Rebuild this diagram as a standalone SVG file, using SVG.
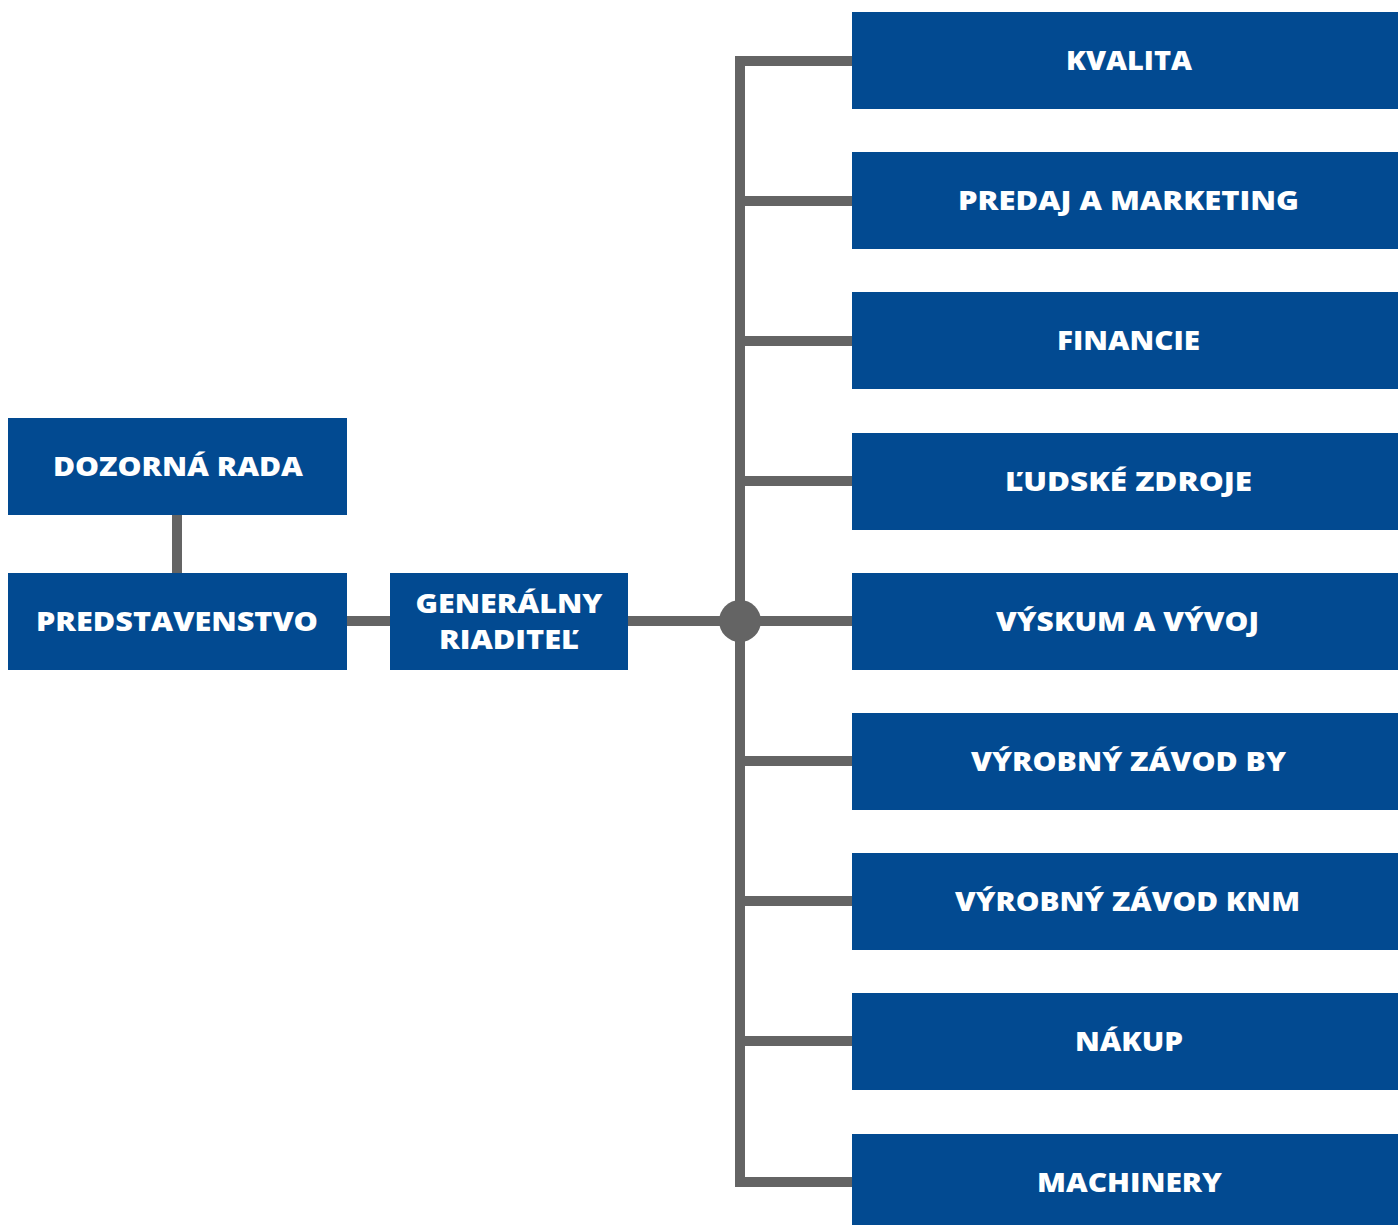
<svg xmlns="http://www.w3.org/2000/svg" width="1398" height="1225" viewBox="0 0 1398 1225">
<style>
.box{fill:#024a91}
.t{fill:#ffffff;font-family:"Open Sans","Liberation Sans",sans-serif;font-weight:800;font-size:27px;text-anchor:middle}
.ln{stroke:#646464;stroke-width:10;fill:none}
</style>
<rect width="1398" height="1225" fill="#ffffff"/>
<g id="connectors">
<line class="ln" x1="177" y1="514" x2="177" y2="574"/>
<line class="ln" x1="346" y1="621" x2="391" y2="621"/>
<line class="ln" x1="627" y1="621" x2="853" y2="621"/>
<polyline class="ln" points="853,61 740,61 740,1182 853,1182"/>
<line class="ln" x1="740" y1="201" x2="853" y2="201"/>
<line class="ln" x1="740" y1="341" x2="853" y2="341"/>
<line class="ln" x1="740" y1="481" x2="853" y2="481"/>
<line class="ln" x1="740" y1="761" x2="853" y2="761"/>
<line class="ln" x1="740" y1="901" x2="853" y2="901"/>
<line class="ln" x1="740" y1="1041" x2="853" y2="1041"/>
<circle cx="740" cy="621" r="21" fill="#646464"/>
</g>
<g id="dozorna"><rect class="box" x="8" y="418" width="339" height="97"/><text class="t" x="178" y="476" textLength="250" lengthAdjust="spacingAndGlyphs">DOZORNÁ RADA</text></g>
<g id="predstavenstvo"><rect class="box" x="8" y="573" width="339" height="97"/><text class="t" x="177" y="631" textLength="282" lengthAdjust="spacingAndGlyphs">PREDSTAVENSTVO</text></g>
<g id="gr"><rect class="box" x="390" y="573" width="238" height="97"/><text class="t" x="509" y="613" textLength="187" lengthAdjust="spacingAndGlyphs">GENERÁLNY</text><text class="t" x="509" y="649" textLength="140" lengthAdjust="spacingAndGlyphs">RIADITEĽ</text></g>
<g id="kvalita"><rect class="box" x="852" y="12" width="546" height="97"/><text class="t" x="1129" y="70" textLength="126" lengthAdjust="spacingAndGlyphs">KVALITA</text></g>
<g id="predaj"><rect class="box" x="852" y="152" width="546" height="97"/><text class="t" x="1128.5" y="210" textLength="341" lengthAdjust="spacingAndGlyphs">PREDAJ A MARKETING</text></g>
<g id="financie"><rect class="box" x="852" y="292" width="546" height="97"/><text class="t" x="1128.5" y="350" textLength="143" lengthAdjust="spacingAndGlyphs">FINANCIE</text></g>
<g id="ludske"><rect class="box" x="852" y="433" width="546" height="97"/><text class="t" x="1128.5" y="491" textLength="247" lengthAdjust="spacingAndGlyphs">ĽUDSKÉ ZDROJE</text></g>
<g id="vyskum"><rect class="box" x="852" y="573" width="546" height="97"/><text class="t" x="1127.5" y="631" textLength="263" lengthAdjust="spacingAndGlyphs">VÝSKUM A VÝVOJ</text></g>
<g id="by"><rect class="box" x="852" y="713" width="546" height="97"/><text class="t" x="1128.5" y="771" textLength="315" lengthAdjust="spacingAndGlyphs">VÝROBNÝ ZÁVOD BY</text></g>
<g id="knm"><rect class="box" x="852" y="853" width="546" height="97"/><text class="t" x="1127.5" y="911" textLength="345" lengthAdjust="spacingAndGlyphs">VÝROBNÝ ZÁVOD KNM</text></g>
<g id="nakup"><rect class="box" x="852" y="993" width="546" height="97"/><text class="t" x="1129" y="1051" textLength="108" lengthAdjust="spacingAndGlyphs">NÁKUP</text></g>
<g id="machinery"><rect class="box" x="852" y="1134" width="546" height="97"/><text class="t" x="1129.5" y="1192" textLength="185" lengthAdjust="spacingAndGlyphs">MACHINERY</text></g>
</svg>
